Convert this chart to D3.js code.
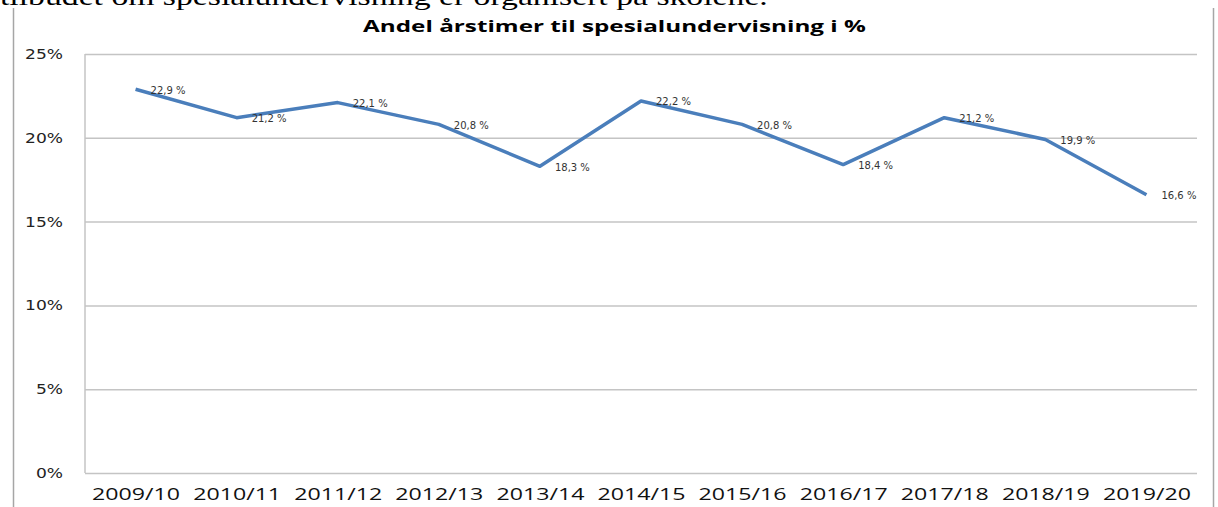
<!DOCTYPE html>
<html>
<head>
<meta charset="utf-8">
<script src="https://cdn.jsdelivr.net/npm/d3@7"></script>
<style>
  body { margin: 0; background: #fff; }
  svg { display: block; }
</style>
</head>
<body>
<svg id="chart"></svg>
<script>
// data
var years = ["2009/10","2010/11","2011/12","2012/13","2013/14","2014/15","2015/16","2016/17","2017/18","2018/19","2019/20"];
var shares = [22.9, 21.2, 22.1, 20.8, 18.3, 22.2, 20.8, 18.4, 21.2, 19.9, 16.6];
var yTicks = [0, 5, 10, 15, 20, 25];
var title = "Andel årstimer til spesialundervisning i %";
var bodyText = "tilbudet om spesialundervisning er organisert på skolene.";

var W = 1218, H = 507;
var margin = {top: 54, left: 85, bottom: 34, right: 21};
var width = W - margin.left - margin.right;
var height = H - margin.top - margin.bottom;

var svg = d3.select("#chart")
    .attr("width", W)
    .attr("height", H);

// stretch text horizontally (source image is widened)
function fitWidth(sel, target) {
    var len = sel.node().getComputedTextLength();
    return target / len;
}
function stretch(sel, sx) {
    sel.each(function() {
        var t = d3.select(this);
        var x = +t.attr("x") || 0, y = +t.attr("y") || 0;
        t.attr("x", 0).attr("y", 0)
         .attr("transform", "translate(" + x + "," + y + ") scale(" + sx + ",1)");
    });
}

// cut-off document text above the chart
var bt = svg.append("text")
    .attr("x", 0).attr("y", 5)
    .style("font-family", "'Liberation Serif', 'Times New Roman', serif")
    .style("font-size", "26px")
    .attr("fill", "#000")
    .text(bodyText);
stretch(bt, fitWidth(bt, 768));

// outer chart frame (sides)
svg.append("line").attr("x1", 13.5).attr("x2", 13.5).attr("y1", 8).attr("y2", H)
    .attr("stroke", "#a6a6a6").attr("stroke-width", 1.5);
svg.append("line").attr("x1", 1213.5).attr("x2", 1213.5).attr("y1", 8).attr("y2", H)
    .attr("stroke", "#a6a6a6").attr("stroke-width", 1.5);

// title
var tt = svg.append("text")
    .attr("x", 614.5).attr("y", 32)
    .attr("text-anchor", "middle")
    .style("font-family", "'Open Sans', sans-serif")
    .style("font-weight", "bold")
    .style("font-size", "16px")
    .attr("fill", "#000")
    .text(title);
stretch(tt, fitWidth(tt, 503));

var g = svg.append("g")
    .attr("transform", "translate(" + margin.left + "," + margin.top + ")");

var xScale = d3.scalePoint()
    .domain(years)
    .range([0, width])
    .padding(0.5);

var yScale = d3.scaleLinear()
    .domain([0, 25])
    .range([height, 0]);

// gridlines + y labels
var yAxis = d3.axisLeft(yScale)
    .tickValues(yTicks)
    .tickSize(-width)
    .tickPadding(22)
    .tickFormat(function(d) { return d + "%"; });

var ya = g.append("g")
    .attr("class", "yaxis")
    .call(yAxis);
ya.select(".domain").remove();
ya.selectAll(".tick line")
    .attr("stroke", "#c4c4c4")
    .attr("stroke-width", 1.5);
ya.selectAll(".tick text")
    .style("font-family", "'DejaVu Sans', Verdana, sans-serif")
    .style("font-size", "14px")
    .attr("fill", "#222");
var ysx = fitWidth(ya.selectAll(".tick text").filter(function(d) { return d === 10; }), 38);
ya.selectAll(".tick text").call(stretch, ysx);

// plot area left border
g.append("line")
    .attr("x1", 0).attr("x2", 0)
    .attr("y1", 0).attr("y2", height)
    .attr("stroke", "#c4c4c4").attr("stroke-width", 1.5);

// x labels
var xAxis = d3.axisBottom(xScale).tickSize(0);
var xa = g.append("g")
    .attr("class", "xaxis")
    .attr("transform", "translate(0," + height + ")")
    .call(xAxis);
xa.select(".domain").remove();
xa.selectAll(".tick text")
    .attr("y", 27)
    .attr("dy", 0)
    .style("font-family", "'Open Sans', sans-serif")
    .style("font-size", "15.5px")
    .attr("fill", "#111");
var xsx = fitWidth(xa.select(".tick text"), 88);
xa.selectAll(".tick text").call(stretch, xsx);

// line
var line = d3.line()
    .x(function(d, i) { return xScale(years[i]); })
    .y(function(d) { return yScale(d); });

g.append("path")
    .datum(shares)
    .attr("d", line)
    .attr("fill", "none")
    .attr("stroke", "#4a7ebb")
    .attr("stroke-width", 3.5)
    .attr("stroke-linejoin", "round");

// data labels
var fmt = function(v) { return d3.format(".1f")(v).replace(".", ",") + " %"; };
g.selectAll(".dlabel")
    .data(shares)
    .enter()
    .append("text")
    .attr("class", "dlabel")
    .attr("x", function(d, i) { return xScale(years[i]) + 15; })
    .attr("y", function(d) { return yScale(d) + 1; })
    .attr("dy", "0.35em")
    .style("font-family", "'DejaVu Sans', Verdana, sans-serif")
    .style("font-size", "10px")
    .attr("fill", "#333")
    .text(fmt);
</script>
</body>
</html>
